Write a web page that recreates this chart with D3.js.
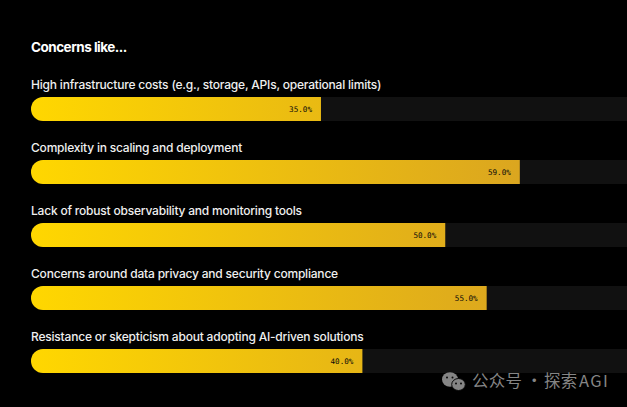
<!DOCTYPE html>
<html>
<head>
<meta charset="utf-8">
<script src="https://cdn.jsdelivr.net/npm/d3@7"></script>
<style>
html, body { margin: 0; padding: 0; background: #000; overflow: hidden; }
svg { display: block; }
</style>
</head>
<body>
<script>
const title = "Concerns like...";
const categories = [
  "High infrastructure costs (e.g., storage, APIs, operational limits)",
  "Complexity in scaling and deployment",
  "Lack of robust observability and monitoring tools",
  "Concerns around data privacy and security compliance",
  "Resistance or skepticism about adopting AI-driven solutions"
];
const percents = [35, 59, 50, 55, 40];
const watermarkParts = ["公众号", "·", "探索", "AGI"];

const width = 627, height = 407;
const barLeft = 31, barHeight = 24, barFullRight = 859.5;
const sansFont = "Inter, 'Open Sans', sans-serif";

const svg = d3.select("body").append("svg")
  .attr("width", width).attr("height", height);

const x = d3.scaleLinear().domain([0, 100]).range([barLeft, barFullRight]);
const y = d3.scaleBand().domain(categories).range([97, 97 + 63 * 5]);

const defs = svg.append("defs");
const grad = defs.append("linearGradient")
  .attr("id", "fill-gold")
  .attr("gradientUnits", "userSpaceOnUse")
  .attr("x1", x(0)).attr("x2", x(60)).attr("y1", 0).attr("y2", 0);
grad.append("stop").attr("offset", 0).attr("stop-color", "#ffd700");
grad.append("stop").attr("offset", 1).attr("stop-color", "#daa520");

svg.append("text")
  .attr("x", barLeft).attr("y", 52)
  .attr("fill", "#fff")
  .attr("font-family", sansFont).attr("font-size", 13.5).attr("font-weight", 700)
  .attr("letter-spacing", -0.5)
  .text(title);

const rows = svg.selectAll("g.row")
  .data(categories.map((name, i) => ({ name, value: percents[i] })))
  .join("g").attr("class", "row")
  .attr("transform", d => `translate(0,${y(d.name)})`);

rows.append("text")
  .attr("x", barLeft).attr("y", -8)
  .attr("fill", "#efefef")
  .attr("font-family", sansFont).attr("font-size", 12).attr("font-weight", 500)
  .attr("letter-spacing", -0.2)
  .text(d => d.name);

// Track, then a fill with only its left end rounded
rows.append("path")
  .attr("fill", "#111")
  .attr("d", () => `M${barLeft + 12},0H${width}V${barHeight}H${barLeft + 12}A12,12 0 0 1 ${barLeft + 12},0Z`);

rows.append("path")
  .attr("fill", "url(#fill-gold)")
  .attr("d", d => `M${barLeft + 12},0H${x(d.value)}V${barHeight}H${barLeft + 12}A12,12 0 0 1 ${barLeft + 12},0Z`);

rows.append("text")
  .attr("x", d => x(d.value) - 9).attr("y", 14.5)
  .attr("text-anchor", "end")
  .attr("fill", "#0a0a0a")
  .attr("font-family", "'DejaVu Sans Mono', monospace").attr("font-size", 7.6)
  .text(d => d3.format(".1f")(d.value) + "%");

// Account badge in the lower right corner: two overlapping chat bubbles with eyes
const badge = svg.append("g");
badge.append("ellipse").attr("cx", 450).attr("cy", 379.5).attr("rx", 8).attr("ry", 7.3).attr("fill", "#858585");
badge.append("ellipse").attr("cx", 458.5).attr("cy", 384.5).attr("rx", 6.8).attr("ry", 6)
  .attr("fill", "#858585").attr("stroke", "#0a0a0a").attr("stroke-width", 1);
[[447, 377.5], [452.5, 377.5], [456, 383.5], [461, 383.5]].forEach(([cx, cy]) => {
  badge.append("circle").attr("cx", cx).attr("cy", cy).attr("r", 1).attr("fill", "#0a0a0a");
});

const mark = svg.append("text")
  .attr("y", 387)
  .attr("fill", "#858585")
  .attr("font-family", "'Noto Sans CJK SC', sans-serif").attr("font-size", 16.5);
mark.selectAll("tspan")
  .data(watermarkParts)
  .join("tspan")
  .attr("x", (d, i) => [472, 526, 544, 579][i])
  .attr("letter-spacing", (d, i) => (i === 3 ? 1.4 : 0.2))
  .text(d => d);
</script>
</body>
</html>
